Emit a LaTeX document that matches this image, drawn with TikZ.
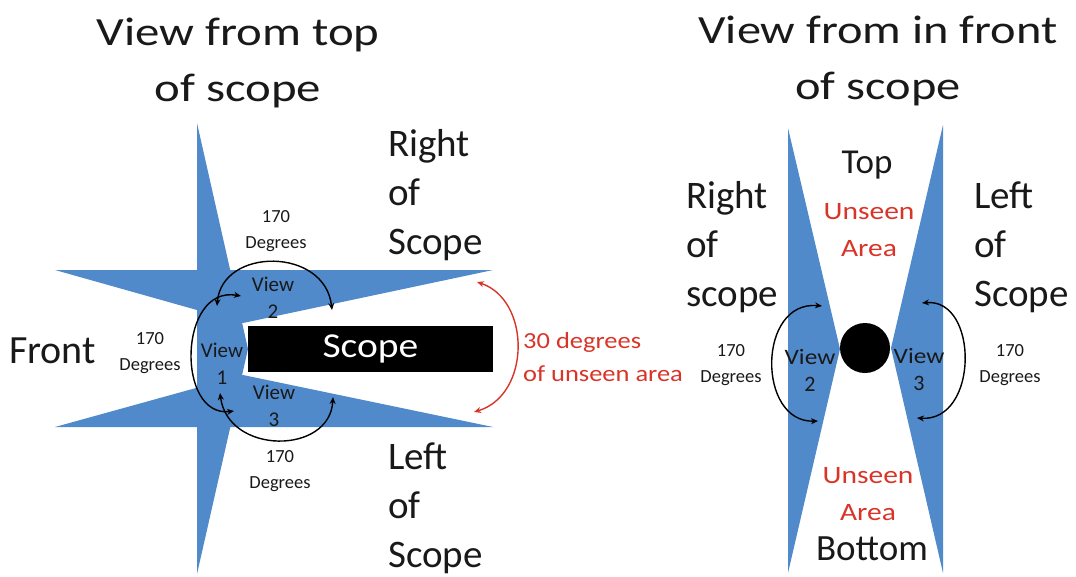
\documentclass[tikz,border=0pt]{standalone}
\usepackage{fontspec}
\usepackage{graphicx}
\setmainfont{Carlito}
\usetikzlibrary{arrows.meta}
\definecolor{fovblue}{RGB}{80,138,203}
\definecolor{unseenred}{RGB}{216,52,40}
\definecolor{ink}{RGB}{25,25,25}
\newcommand{\fsz}[2]{\fontsize{#1}{#2}\selectfont}
\newcommand{\sx}[2]{\scalebox{#1}[1]{#2}}
\tikzset{
  fov/.style={fill=fovblue, draw=none},
  lbl/.style={inner sep=0pt, align=center, text=ink},
  lbll/.style={inner sep=0pt, align=left, anchor=west, text=ink},
  title/.style={lbl, font=\fsz{40}{56}},
  big/.style={font=\fsz{39}{49}},
  viewlbl/.style={lbl, font=\fsz{21}{27}},
  deglbl/.style={lbl, font=\fsz{18.5}{26}},
  redlbl/.style={text=unseenred},
  arc/.style={line width=1.4pt, {Stealth[length=7pt,width=6pt]}-{Stealth[length=7pt,width=6pt]}},
}
\begin{document}
\begin{tikzpicture}[x=1pt,y=-1pt]
\useasboundingbox (0,0) rectangle (1076,576);

% ---------- Left: view from top ----------
\node[title] (t1) at (238,63) {\sx{1.22}{View from top}\\\sx{1.22}{of scope}};

\fill[fov] (55,270) -- (493,270) -- (243,323) -- cycle;
\fill[fov] (55,427) -- (493,427) -- (243,375) -- cycle;
\fill[fov] (197,123) -- (248,349) -- (197,574) -- cycle;

\node[fill=black, minimum width=245pt, minimum height=46pt, inner sep=0pt,
      text=white, font=\fsz{35}{40}] (scope) at (370.5,349) {\sx{1.13}{Scope}};

\node[lbll, big] (ros) at (388,195) {Right\\of\\Scope};
\node[lbll, big] (los) at (388,508) {Left\\of\\Scope};
\node[lbll, font=\fsz{40}{49}] (front) at (9,351) {Front};

\node[deglbl] (d1) at (150,353) {170\\Degrees};
\node[deglbl] (d2) at (276,231) {170\\Degrees};
\node[deglbl] (d3) at (280,471) {170\\Degrees};

\node[viewlbl] (v2) at (273,298) {View\\2};
\node[viewlbl] (v1) at (222,364) {View\\1};
\node[viewlbl] (v3) at (274,406) {View\\3};

\node[lbll, redlbl, font=\fsz{23}{33}] (unseen) at (523,357) {\sx{1.15}{30 degrees}\\\sx{1.15}{of unseen area}};

\coordinate (a2s) at (217,306); \coordinate (a2e) at (332,310);
\coordinate (a1s) at (241,296); \coordinate (a1e) at (234,411);
\coordinate (a3s) at (220,393); \coordinate (a3e) at (333,397);
\coordinate (rs) at (477,282);  \coordinate (re) at (474,412);

\draw[arc] (a2s) .. controls (222,247) and (325,247) .. (a2e);
\draw[arc] (a1s) .. controls (178,285) and (176,418) .. (a1e);
\draw[arc] (a3s) .. controls (228,455) and (330,455) .. (a3e);
\draw[arc, draw=unseenred] (rs) .. controls (531,300) and (531,395) .. (re);

% ---------- Right: view from in front ----------
\node[title] (t2) at (878,61) {\sx{1.21}{View from in front}\\\sx{1.21}{of scope}};

\fill[fov] (788,128) -- (840,349) -- (788,573) -- cycle;
\fill[fov] (943,125) -- (891,348) -- (943,573) -- cycle;
\fill[black] (865,348) circle[radius=25pt];
\coordinate (lens) at (865,348);

\node[lbl, font=\fsz{35}{40}] (top) at (867,165) {Top};
\node[lbl, redlbl, font=\fsz{25}{37}] (ua1) at (869,230) {\sx{1.18}{Unseen}\\\sx{1.18}{Area}};
\node[lbll, font=\fsz{39}{49}] (rs2) at (686,247) {Right\\of\\scope};
\node[lbll, font=\fsz{39}{49}] (ls2) at (974,247) {Left\\of\\Scope};
\node[viewlbl, font=\fsz{22}{27}] (rv2) at (810,370) {\sx{1.15}{View}\\2};
\node[viewlbl, font=\fsz{22}{27}] (rv3) at (919,369) {\sx{1.15}{View}\\3};
\node[deglbl] (rd1) at (731,365) {170\\Degrees};
\node[deglbl] (rd2) at (1010,365) {170\\Degrees};
\node[lbl, redlbl, font=\fsz{25}{37}] (ua2) at (868,494) {\sx{1.18}{Unseen}\\\sx{1.18}{Area}};
\node[lbl, font=\fsz{37}{40}] (bot) at (872,549) {Bottom};

\coordinate (b2s) at (822,306); \coordinate (b2e) at (818,421);
\coordinate (b3s) at (922,303); \coordinate (b3e) at (917,418);
\draw[arc] (b2s) .. controls (757,300) and (757,423) .. (b2e);
\draw[arc] (b3s) .. controls (979,298) and (979,422) .. (b3e);
\end{tikzpicture}
\end{document}
